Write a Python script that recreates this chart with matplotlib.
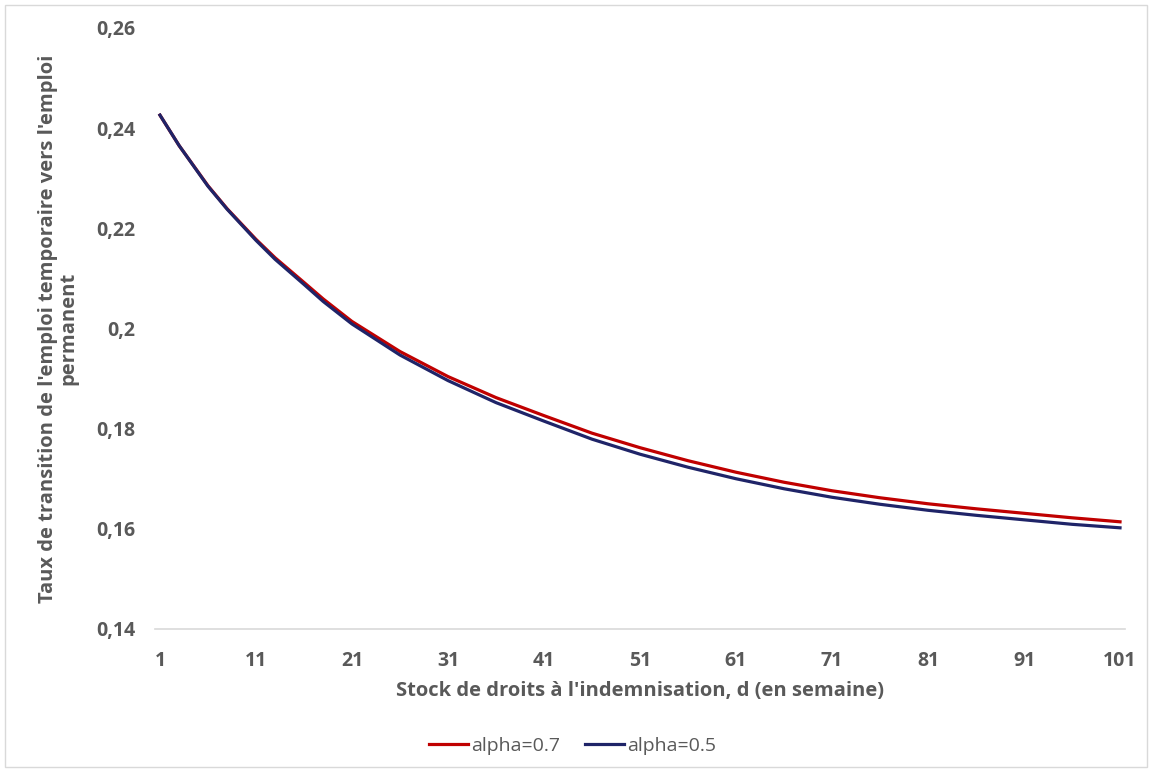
import numpy as np
import matplotlib.pyplot as plt
from matplotlib.patches import Rectangle

# stock de droits (semaines)
d = [1, 3, 6, 8, 11, 13, 16, 18, 21, 26, 31, 36, 41, 46, 51, 56, 61, 66, 71, 76, 81, 86, 91, 96, 101]

alpha_07 = [0.2426, 0.2365, 0.2285, 0.2239, 0.2178, 0.2141, 0.2092, 0.2059, 0.2014, 0.1954,
            0.1904, 0.1862, 0.1826, 0.1791, 0.1762, 0.1736, 0.1713, 0.1693, 0.1676, 0.1662,
            0.1650, 0.1640, 0.1631, 0.1622, 0.1614]
alpha_05 = [0.2426, 0.2365, 0.2284, 0.2238, 0.2176, 0.2138, 0.2088, 0.2054, 0.2009, 0.1947,
            0.1896, 0.1852, 0.1815, 0.1779, 0.1749, 0.1723, 0.1700, 0.1680, 0.1663, 0.1649,
            0.1637, 0.1627, 0.1618, 0.1609, 0.1602]

xticks = list(range(1, 102, 10))
yticks = [0.14, 0.16, 0.18, 0.20, 0.22, 0.24, 0.26]
ytick_labels = ["0,14", "0,16", "0,18", "0,2", "0,22", "0,24", "0,26"]

plt.rcParams["font.family"] = ["Open Sans", "DejaVu Sans"]
grey = "#595959"

fig = plt.figure(figsize=(11.52, 7.71), dpi=100)
ax = fig.add_axes([0.1347, 0.1842, 0.8417, 0.7795])

ax.plot(d, alpha_07, color="#C00000", lw=2.3, label="alpha=0.7")
ax.plot(d, alpha_05, color="#1F2468", lw=2.3, label="alpha=0.5")

ax.set_xlim(0.5, 101.5)
ax.set_ylim(0.14, 0.26)
ax.set_xticks(xticks)
ax.set_yticks(yticks)
ax.set_yticklabels(ytick_labels)
ax.tick_params(length=0, labelsize=14, colors=grey)
ax.tick_params(axis="x", pad=16)
ax.tick_params(axis="y", pad=14)
for lab in ax.get_xticklabels() + ax.get_yticklabels():
    lab.set_fontweight("bold")

for s in ["top", "right", "left"]:
    ax.spines[s].set_visible(False)
ax.spines["bottom"].set_color("#D9D9D9")
ax.spines["bottom"].set_linewidth(1.2)

ax.set_xlabel("Stock de droits à l'indemnisation, d (en semaine)", fontsize=14.5,
              fontweight="bold", color=grey, labelpad=7)
ax.set_ylabel("Taux de transition de l'emploi temporaire vers l'emploi\npermanent",
              fontsize=14.5, fontweight="bold", color=grey, labelpad=13, linespacing=1.05)

fig.legend(loc="center", bbox_to_anchor=(0.497, 0.033), ncol=2, frameon=False,
           handlelength=2.0, handletextpad=0.15, columnspacing=1.3,
           labelcolor=grey, prop={"weight": "normal", "size": 14})

fig.patches.append(Rectangle((0.004, 0.005), 0.992, 0.989, transform=fig.transFigure,
                             fill=False, edgecolor="#D9D9D9", lw=1))

plt.savefig("out.png", dpi=100)
